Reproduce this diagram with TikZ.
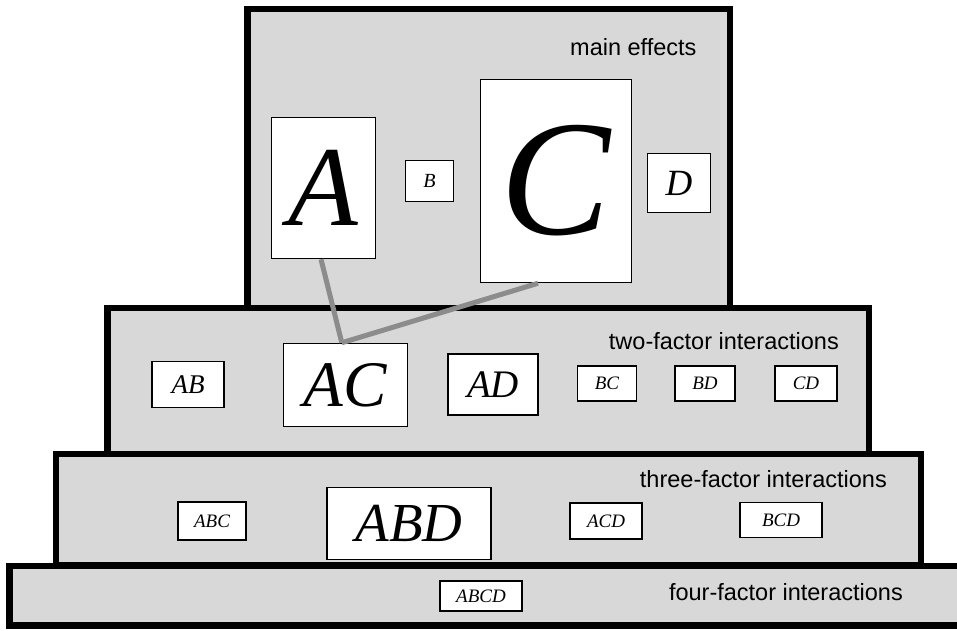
\documentclass[tikz,border=0pt]{standalone}
\usepackage{fontspec}
\setmainfont{Liberation Serif}
\newfontfamily\labelfont{Liberation Sans}

\definecolor{panelgray}{RGB}{216,216,216}
\definecolor{linkgray}{RGB}{140,140,140}
\newcommand{\fsz}[1]{\fontsize{#1}{#1}\selectfont\itshape}

\begin{document}
\begin{tikzpicture}[x=1pt,y=-1pt,
    panel/.style={fill=panelgray,draw=black,line width=6.5pt},
    factor/.style={draw=black,fill=white,line width=1.5pt,inner sep=0pt},
    link/.style={draw=linkgray,line width=5pt},
    tier/.style={font=\labelfont\fontsize{23.5}{24}\selectfont,inner sep=0pt}]
    \clip (0,0) rectangle (957,630);
    \fill[white] (0,0) rectangle (957,630);

    % the four tiers
    \draw[panel] (247.5,9) rectangle (730,308);
    \draw[panel] (107.5,308) rectangle (869,454);
    \draw[panel] (56,454) rectangle (921,565.5);
    \draw[panel] (9.5,566) rectangle (975,625.5);

    \node[tier,anchor=base west] (mainlbl) at (570,55) {main effects};
    \node[tier,anchor=base east] (twolbl) at (839,349) {two-factor interactions};
    \node[tier,anchor=base east] (threelbl) at (887,487) {three-factor interactions};
    \node[tier,anchor=base east] (fourlbl) at (903,600) {four-factor interactions};

    % main effects
    \node[factor,minimum width=104,minimum height=141,font=\fsz{114}] (A) at (323.5,188) {A};
    \node[factor,minimum width=48,minimum height=41,font=\fsz{20}] (B) at (429.5,181) {B};
    \node[factor,minimum width=151,minimum height=203,font=\fsz{165}] (C) at (556,181) {C};
    \node[factor,minimum width=63,minimum height=59,font=\fsz{37}] (D) at (679,183) {D};

    % two-factor
    \node[factor,minimum width=72,minimum height=46,font=\fsz{27}] (AB) at (188,384.5) {AB};
    \node[factor,minimum width=124,minimum height=83,font=\fsz{65}] (AC) at (345.5,385) {AC};
    \node[factor,minimum width=90,minimum height=61,font=\fsz{39}] (AD) at (493,384.5) {AD};
    \node[factor,minimum width=59,minimum height=35,font=\fsz{19}] (BC) at (607,383.5) {BC};
    \node[factor,minimum width=60,minimum height=35,font=\fsz{19}] (BD) at (705,383.5) {BD};
    \node[factor,minimum width=62,minimum height=35,font=\fsz{19}] (CD) at (806,383.5) {CD};

    % three-factor
    \node[factor,minimum width=68,minimum height=38,font=\fsz{19}] (ABC) at (212,521) {ABC};
    \node[factor,minimum width=164,minimum height=72,font=\fsz{55}] (ABD) at (409,523.5) {ABD};
    \node[factor,minimum width=72,minimum height=36,font=\fsz{19}] (ACD) at (606,521) {ACD};
    \node[factor,minimum width=82,minimum height=35,font=\fsz{19}] (BCD) at (781,520) {BCD};

    % four-factor
    \node[factor,minimum width=82,minimum height=30,font=\fsz{19}] (ABCD) at (481,596) {ABCD};

    \draw[link] (A.-92) -- (AC.95);
    \draw[link] (C.-100) -- (AC.95);
\end{tikzpicture}
\end{document}
